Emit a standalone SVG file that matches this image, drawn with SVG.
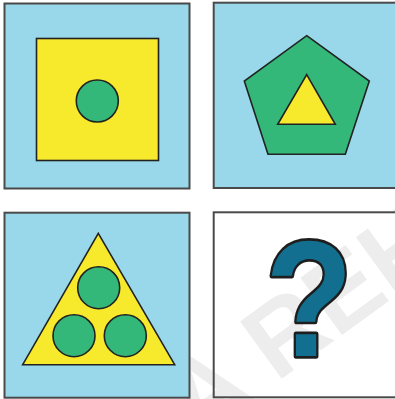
<svg xmlns="http://www.w3.org/2000/svg" width="395" height="399" viewBox="0 0 395 399">
<style>
.panel{fill:#98d8ea;stroke:#4a4a4a;stroke-width:2}
.blank{fill:none;stroke:#4a4a4a;stroke-width:2}
.yel{fill:#f7e92b;stroke:#222;stroke-width:1.6;stroke-linejoin:miter}
.grn{fill:#34b87a;stroke:#222;stroke-width:1.6}
.wm{font-family:"Liberation Sans",Arial,sans-serif;font-weight:bold;font-size:103px;fill:#ededed}
.q{font-family:"Liberation Sans",Arial,sans-serif;font-weight:bold;font-size:156px;fill:#136f8f;stroke:#1e1e1e;stroke-width:5;stroke-linejoin:round;paint-order:stroke}
</style>
<rect width="395" height="399" fill="#fff"/>
<text class="wm" transform="translate(196,441) rotate(-36)">A REH</text>
<g id="panel1">
<rect class="panel" x="4.5" y="3.5" width="185" height="185"/>
<rect class="yel" x="36.5" y="38.5" width="122" height="122"/>
<circle class="grn" cx="97.3" cy="101" r="21"/>
</g>
<g id="panel2">
<rect class="panel" x="213.7" y="2.7" width="190" height="185.3"/>
<polygon class="grn" points="306.7,35.7 369.3,81 345.3,154.3 268,154.3 244.3,81"/>
<polygon class="yel" points="306.7,74.7 335.3,124.3 277.7,124.3"/>
</g>
<g id="panel3">
<rect class="panel" x="4.5" y="212.7" width="185" height="185"/>
<polygon class="yel" points="98.3,233.3 174.7,364.7 22.7,364.7"/>
<circle class="grn" cx="98.7" cy="287.7" r="21"/>
<circle class="grn" cx="74" cy="335.7" r="21"/>
<circle class="grn" cx="125.3" cy="335.7" r="21"/>
</g>
<g id="panel4">
<rect class="blank" x="213.7" y="212.3" width="190" height="185"/>
<text class="q" transform="translate(309,356) scale(0.92,1.06)" text-anchor="middle">?</text>
</g>
<g id="connectors"/>
</svg>
